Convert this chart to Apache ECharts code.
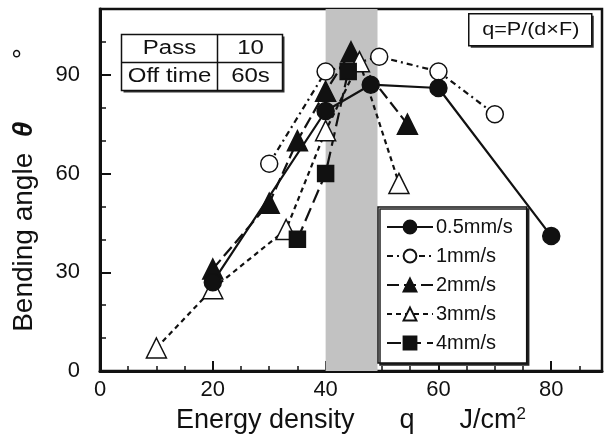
<!DOCTYPE html>
<html>
<head>
<meta charset="utf-8">
<script src="https://cdn.jsdelivr.net/npm/echarts@6/dist/echarts.min.js"></script>
<style>
  html, body { margin: 0; padding: 0; background: #fff; }
  #chart { width: 605px; height: 445px; }
</style>
</head>
<body>
<div id="chart"></div>
<script>
// bending angle vs energy density, one array per scan speed
const speeds = ['0.5mm/s', '1mm/s', '2mm/s', '3mm/s', '4mm/s'];

const s05 = [[20, 27], [40, 79], [48, 87], [60, 86], [80, 41]];
const s1  = [[30, 63], [40, 91], [49.5, 95.5], [60, 91], [70, 78]];
const s2  = [[20, 31], [30, 51], [35, 70], [40, 85], [44.5, 97], [54.5, 75]];
const s3  = [[10, 7], [20, 25], [33, 43], [40, 73], [46, 94], [53, 57]];
const s4  = [[35, 40], [40, 60], [44, 91]];

const band = [40, 49.2];   // shaded q range
const xTicks = [0, 20, 40, 60, 80];
const yTicks = [0, 30, 60, 90];

const font = 'Liberation Sans, Arial, sans-serif';

function line(name, data, symbol, size, fill, dash) {
    return {
        name: name,
        type: 'line',
        data: data,
        symbol: symbol,
        symbolSize: size,
        showSymbol: true,
        z: 3,
        itemStyle: { color: fill, borderColor: '#111', borderWidth: 1.5 },
        lineStyle: { color: '#111', width: 2.2, type: dash }
    };
}

const series = [
    line(speeds[0], s05, 'circle', 17, '#111', 'solid'),
    line(speeds[1], s1, 'circle', 17, '#fff', [6, 4, 2, 4]),
    line(speeds[2], s2, 'triangle', 20, '#111', [12, 5]),
    line(speeds[3], s3, 'triangle', 20, '#fff', [5, 4]),
    line(speeds[4], s4, 'rect', 16, '#111', [14, 6])
];
series[0].markArea = {
    silent: true,
    itemStyle: { color: '#c2c2c2' },
    data: [[{ xAxis: band[0] }, { xAxis: band[1] }]]
};
series[0].z = 4;

function boxText(x, y, text, size) {
    return { type: 'text', x: x, y: y, scaleX: 1.2,
        style: { text: text, font: size + 'px ' + font, fill: '#111', align: 'center', verticalAlign: 'middle' } };
}

let chart = echarts.init(document.getElementById('chart'));
chart.setOption({
    animation: false,
    backgroundColor: '#fff',
    textStyle: { fontFamily: font, color: '#111' },
    grid: {
        left: 100, right: 3, top: 9, bottom: 74,
        show: true, borderColor: '#111', borderWidth: 2.5
    },
    xAxis: {
        type: 'value', min: 0, max: 89, interval: 20,
        name: 'Energy density      q      J/cm{s|2}',
        nameLocation: 'middle', nameGap: 34,
        nameTextStyle: { fontSize: 27, color: '#111', fontFamily: font,
            rich: { s: { fontSize: 17, verticalAlign: 'top', padding: [0, 0, 12, 0] } } },
        axisLine: { lineStyle: { color: '#111', width: 3 } },
        axisTick: { inside: true, length: 10, lineStyle: { color: '#111', width: 2 } },
        minorTick: { show: true, splitNumber: 4, length: 5, lineStyle: { color: '#111', width: 1.5 } },
        axisLabel: { fontSize: 22, color: '#111', margin: 8,
            formatter: v => xTicks.includes(v) ? String(v) : '' },
        splitLine: { show: false }
    },
    yAxis: {
        type: 'value', min: 0, max: 110, interval: 30,
        name: 'Bending angle  {t|θ}        °',
        nameLocation: 'middle', nameGap: 62, nameRotate: 90,
        nameTextStyle: { fontSize: 28, color: '#111', fontFamily: font,
            rich: { t: { fontSize: 28, fontStyle: 'italic', fontWeight: 'bold' } } },
        axisLine: { lineStyle: { color: '#111', width: 3 } },
        axisTick: { inside: true, length: 11, lineStyle: { color: '#111', width: 2 } },
        minorTick: { show: true, splitNumber: 3, length: 6, lineStyle: { color: '#111', width: 1.5 } },
        axisLabel: { fontSize: 22, color: '#111', margin: 20,
            formatter: v => yTicks.includes(v) ? String(v) : '' },
        splitLine: { show: false }
    },
    legend: {
        data: speeds,
        orient: 'vertical',
        left: 378, top: 207,
        itemWidth: 46, itemHeight: 16, itemGap: 9,
        padding: [10, 14, 10, 8],
        backgroundColor: '#fff',
        borderColor: '#111', borderWidth: 1.5, borderRadius: 0,
        shadowColor: '#222', shadowBlur: 0, shadowOffsetX: 2, shadowOffsetY: 2,
        textStyle: { fontSize: 20, color: '#111', fontFamily: font, padding: [0, 0, 0, -2] }
    },
    graphic: [
        {
            type: 'group', left: 119, top: 32,
            children: [
                { type: 'rect', shape: { x: 2, y: 2, width: 161, height: 56 }, style: { fill: '#333' } },
                { type: 'rect', shape: { x: 0, y: 0, width: 161, height: 56 }, style: { fill: '#fff', stroke: '#111', lineWidth: 1.5 } },
                { type: 'line', shape: { x1: 96, y1: 0, x2: 96, y2: 56 }, style: { stroke: '#111', lineWidth: 1.5 } },
                { type: 'line', shape: { x1: 0, y1: 28, x2: 161, y2: 28 }, style: { stroke: '#111', lineWidth: 1.5 } },
                boxText(48, 14, 'Pass', 20),
                boxText(129, 14, '10', 20),
                boxText(48, 42, 'Off time', 20),
                boxText(129, 42, '60s', 20)
            ]
        },
        {
            type: 'group', left: 468, top: 13,
            children: [
                { type: 'rect', shape: { x: 2, y: 2, width: 123, height: 32 }, style: { fill: '#333' } },
                { type: 'rect', shape: { x: 0, y: 0, width: 123, height: 32 }, style: { fill: '#fff', stroke: '#111', lineWidth: 1.5 } },
                boxText(62, 16, 'q=P/(d\u00d7F)', 18)
            ]
        }
    ],
    series: series
});
</script>
</body>
</html>
